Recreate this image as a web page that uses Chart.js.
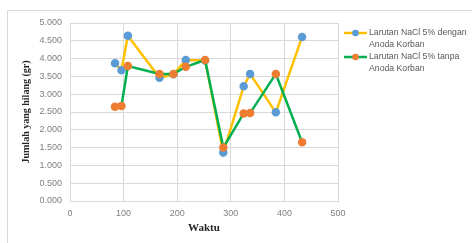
<!DOCTYPE html>
<html>
<head>
<meta charset="utf-8">
<script src="https://cdn.jsdelivr.net/npm/chart.js@4.4.0/dist/chart.umd.min.js"></script>
<style>
  body { margin: 0; background: #fff; overflow: hidden; }
  #wrap { position: relative; width: 472px; height: 243px; }
  #frame { position: absolute; left: 7px; top: 10px; width: 480px; height: 250px; border: 1px solid #d9d9d9; }
  canvas { position: absolute; left: 0; top: 0; }
</style>
</head>
<body>
<div id="wrap">
  <div id="frame"></div>
  <canvas id="myChart" width="472" height="243"></canvas>
</div>
<script>
    // data
    const waktu = [84, 96, 108, 167, 193, 216, 252, 286, 324, 336, 384, 433];
    const denganAnoda = [3.87, 3.67, 4.64, 3.46, 3.56, 3.96, 3.95, 1.36, 3.22, 3.57, 2.49, 4.61];
    const tanpaAnoda = [2.65, 2.67, 3.79, 3.57, 3.57, 3.77, 3.96, 1.50, 2.46, 2.47, 3.57, 1.65];
    const labelDengan = ['Larutan NaCl 5% dengan', 'Anoda Korban'];
    const labelTanpa = ['Larutan NaCl 5% tanpa', 'Anoda Korban'];

    const toPoints = (ys) => ys.map((y, i) => ({ x: waktu[i], y: y }));

    // legend drawn on the canvas, two lines per entry
    const sideLegend = {
        id: 'sideLegend',
        afterDraw(chart) {
            const c = chart.ctx;
            const x0 = 344, x1 = 367;
            const rows = [33, 57];
            c.save();
            chart.data.datasets.forEach((ds, i) => {
                const y = rows[i];
                c.strokeStyle = ds.borderColor;
                c.lineWidth = 2.5;
                c.beginPath();
                c.moveTo(x0, y);
                c.lineTo(x1, y);
                c.stroke();
                c.fillStyle = ds.pointBackgroundColor;
                c.beginPath();
                c.arc((x0 + x1) / 2, y, 3.3, 0, Math.PI * 2);
                c.fill();
                c.fillStyle = '#595959';
                c.font = '8.7px "Liberation Sans"';
                c.textBaseline = 'middle';
                ds.label.forEach((t, j) => c.fillText(t, 369, y + j * 11.5));
            });
            c.restore();
        }
    };

    const ctx = document.getElementById('myChart').getContext('2d');
    const myChart = new Chart(ctx, {
        type: 'line',
        data: {
            datasets: [{
                label: labelDengan,
                data: toPoints(denganAnoda),
                borderColor: '#FFC000',
                pointBackgroundColor: '#5B9BD5',
                pointBorderColor: '#5B9BD5',
                borderWidth: 2.5,
                order: 2
            }, {
                label: labelTanpa,
                data: toPoints(tanpaAnoda),
                borderColor: '#00B050',
                pointBackgroundColor: '#ED7D31',
                pointBorderColor: '#ED7D31',
                borderWidth: 2.5,
                order: 1
            }]
        },
        options: {
            responsive: false,
            animation: false,
            layout: {
                padding: { left: 10, top: 23, right: 134, bottom: 8 }
            },
            plugins: {
                legend: { display: false },
                tooltip: { enabled: false }
            },
            elements: {
                point: { radius: 3, borderWidth: 0.5 },
                line: { tension: 0 }
            },
            scales: {
                x: {
                    type: 'linear',
                    min: 0,
                    max: 500,
                    grid: { color: '#d9d9d9', drawTicks: false },
                    border: { color: '#d9d9d9' },
                    ticks: {
                        stepSize: 100,
                        padding: 7,
                        color: '#808080',
                        font: { family: 'Liberation Sans', size: 9 }
                    },
                    title: {
                        display: true,
                        text: 'Waktu',
                        color: '#262626',
                        padding: { top: 3, bottom: 0 },
                        font: { family: 'Liberation Serif', size: 11, weight: 'bold' }
                    },
                    afterFit: (scale) => { scale.height = 34; }
                },
                y: {
                    min: 0,
                    max: 5,
                    grid: { color: '#d9d9d9', drawTicks: false },
                    border: { color: '#d9d9d9' },
                    ticks: {
                        stepSize: 0.5,
                        padding: 8,
                        color: '#808080',
                        font: { family: 'Liberation Sans', size: 9 },
                        callback: function(value) {
                            return value.toFixed(3);
                        }
                    },
                    title: {
                        display: true,
                        text: 'Jumlah yang hilang (gr)',
                        color: '#262626',
                        padding: { top: 10, bottom: 0 },
                        font: { family: 'Liberation Serif', size: 10, weight: 'bold' }
                    },
                    afterFit: (scale) => { scale.width = 60; }
                }
            }
        },
        plugins: [sideLegend]
    });
</script>
</body>
</html>
